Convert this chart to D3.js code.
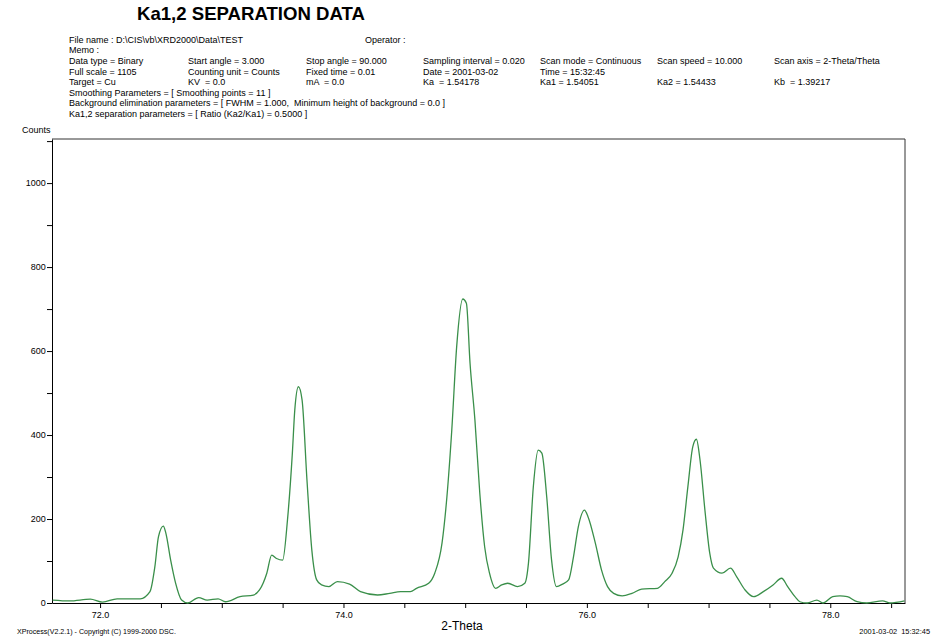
<!DOCTYPE html>
<html>
<head>
<meta charset="utf-8">
<script src="https://cdn.jsdelivr.net/npm/d3@7"></script>
<style>
  body { margin: 0; background: #fff; }
  svg { display: block; font-family: Arial, "Liberation Sans", sans-serif; }
</style>
</head>
<body>
<svg id="chart" width="945" height="639"></svg>
<script>
// ---- data ----
const twoTheta = [71.61,71.75,71.92,72.02,72.14,72.33,72.41,72.45,72.48,72.52,72.54,72.58,72.62,72.67,72.72,72.81,72.88,72.97,73.03,73.15,73.26,73.31,73.37,73.41,73.45,73.50,73.54,73.58,73.60,73.63,73.66,73.70,73.74,73.78,73.82,73.88,73.95,74.05,74.14,74.28,74.38,74.47,74.55,74.60,74.70,74.75,74.81,74.85,74.89,74.93,74.98,75.01,75.04,75.08,75.12,75.16,75.20,75.25,75.30,75.35,75.43,75.49,75.52,75.56,75.60,75.63,75.67,75.71,75.75,75.80,75.85,75.89,75.93,75.98,76.01,76.07,76.12,76.17,76.22,76.29,76.37,76.45,76.58,76.64,76.70,76.75,76.79,76.83,76.87,76.90,76.93,76.97,77.01,77.04,77.11,77.18,77.23,77.30,77.37,77.45,77.53,77.60,77.65,77.71,77.75,77.81,77.89,77.94,78.02,78.08,78.14,78.22,78.30,78.43,78.49,78.61];
const counts   = [7,5,9,2,10,10,27,86,158,183,167,102,48,7,0,13,7,10,3,15,19,31,71,114,106,102,198,357,460,515,483,293,126,55,43,39,51,45,27,19,23,27,27,35,47,71,143,253,412,610,724,714,571,436,262,134,71,35,43,47,39,47,95,277,364,357,253,102,39,45,55,110,182,221,205,142,79,39,23,17,23,33,35,51,71,110,174,277,372,390,340,221,118,83,71,83,63,31,15,27,43,59,39,15,3,0,7,0,15,17,15,3,0,5,0,5];

const xTicks = [72.0,72.5,73.0,73.5,74.0,74.5,75.0,75.5,76.0,76.5,77.0,77.5,78.0,78.5];
const xLabelTicks = [72.0,74.0,76.0,78.0];
const yTicks = [0,100,200,300,400,500,600,700,800,900,1000,1100];
const yLabelTicks = [0,200,400,600,800,1000];

const title = "Ka1,2 SEPARATION DATA";
const headerRows = [
  ["File name : D:\\CIS\\vb\\XRD2000\\Data\\TEST", "", "", "", "", "", ""],
  ["Memo :", "", "", "", "", "", ""],
  ["Data type = Binary", "Start angle = 3.000", "Stop angle = 90.000", "Sampling interval = 0.020", "Scan mode = Continuous", "Scan speed = 10.000", "Scan axis = 2-Theta/Theta"],
  ["Full scale = 1105", "Counting unit = Counts", "Fixed time = 0.01", "Date = 2001-03-02", "Time = 15:32:45", "", ""],
  ["Target = Cu", "KV  = 0.0", "mA  = 0.0", "Ka  = 1.54178", "Ka1 = 1.54051", "Ka2 = 1.54433", "Kb  = 1.39217"],
  ["Smoothing Parameters = [ Smoothing points = 11 ]"],
  ["Background elimination parameters = [ FWHM = 1.000,  Minimum height of background = 0.0 ]"],
  ["Ka1,2 separation parameters = [ Ratio (Ka2/Ka1) = 0.5000 ]"]
];
const operatorText = "Operator :";
const yTitle = "Counts";
const xTitle = "2-Theta";
const footLeft = "XProcess(V2.2.1) - Copyright (C) 1999-2000 DSC.";
const footRight = "2001-03-02  15:32:45";

// ---- layout ----
const svg = d3.select("#chart");
const L = 52, R = 905, T = 139, B = 603;

const x = d3.scaleLinear().domain([71.605, 78.614]).range([L, R]);
const y = d3.scaleLinear().domain([0, 1105]).range([B, T]);

// title
svg.append("text").attr("x", 137).attr("y", 20)
  .attr("font-size", 18.6).attr("font-weight", "bold").attr("fill", "#000")
  .text(title);

// header
const colX = [69, 188, 306, 423, 540, 657, 774];
const rowY = [43, 53, 64, 75, 85, 96, 106, 117];
headerRows.forEach((row, i) => {
  row.forEach((t, j) => {
    if (!t) return;
    svg.append("text").attr("x", colX[j]).attr("y", rowY[i]).attr("xml:space", "preserve")
      .attr("font-size", 9).attr("fill", "#000").text(t);
  });
});
svg.append("text").attr("x", 365).attr("y", rowY[0])
  .attr("font-size", 9).attr("fill", "#000").text(operatorText);

// axis titles
svg.append("text").attr("x", 22).attr("y", 133)
  .attr("font-size", 9).attr("fill", "#000").text(yTitle);
svg.append("text").attr("x", 462).attr("y", 630).attr("text-anchor", "middle")
  .attr("font-size", 12).attr("fill", "#000").text(xTitle);

// footer
svg.append("text").attr("x", 17).attr("y", 634)
  .attr("font-size", 7.1).attr("fill", "#000").text(footLeft);
svg.append("text").attr("x", 930).attr("y", 634).attr("text-anchor", "end").attr("xml:space", "preserve")
  .attr("font-size", 7.4).attr("fill", "#000").text(footRight);

// frame (top + right)
svg.append("line").attr("x1", L).attr("x2", R).attr("y1", T).attr("y2", T)
  .attr("stroke", "#333").attr("stroke-width", 1);
svg.append("line").attr("x1", R).attr("x2", R).attr("y1", T).attr("y2", B)
  .attr("stroke", "#333").attr("stroke-width", 1);

// axes
const xAxis = d3.axisBottom(x).tickValues(xTicks).tickSize(5).tickSizeOuter(0)
  .tickFormat(d => xLabelTicks.includes(d) ? d3.format(".1f")(d) : "");
const gx = svg.append("g").attr("transform", `translate(0,${B})`).call(xAxis);
gx.selectAll("text").attr("font-size", 9).attr("fill", "#000").attr("font-family", "Arial, 'Liberation Sans', sans-serif").attr("dy", "0.8em");
gx.selectAll("line").attr("stroke", "#000");
gx.select(".domain").attr("stroke", "#000");

const yAxis = d3.axisLeft(y).tickValues(yTicks).tickSize(5).tickSizeOuter(0)
  .tickFormat(d => yLabelTicks.includes(d) ? String(d) : "");
const gy = svg.append("g").attr("transform", `translate(${L},0)`).call(yAxis);
gy.selectAll("text").attr("font-size", 9).attr("fill", "#000").attr("font-family", "Arial, 'Liberation Sans', sans-serif").attr("dx", "0.2em");
gy.selectAll("line").attr("stroke", "#000");
gy.select(".domain").attr("stroke", "#000");

// curve
const pts = twoTheta.map((t, i) => [t, counts[i]]);
const lineGen = d3.line().x(d => x(d[0])).y(d => y(d[1])).curve(d3.curveMonotoneX);
svg.append("path").datum(pts).attr("d", lineGen)
  .attr("fill", "none").attr("stroke", "#3a8f4a").attr("stroke-width", 1.3);
</script>
</body>
</html>
